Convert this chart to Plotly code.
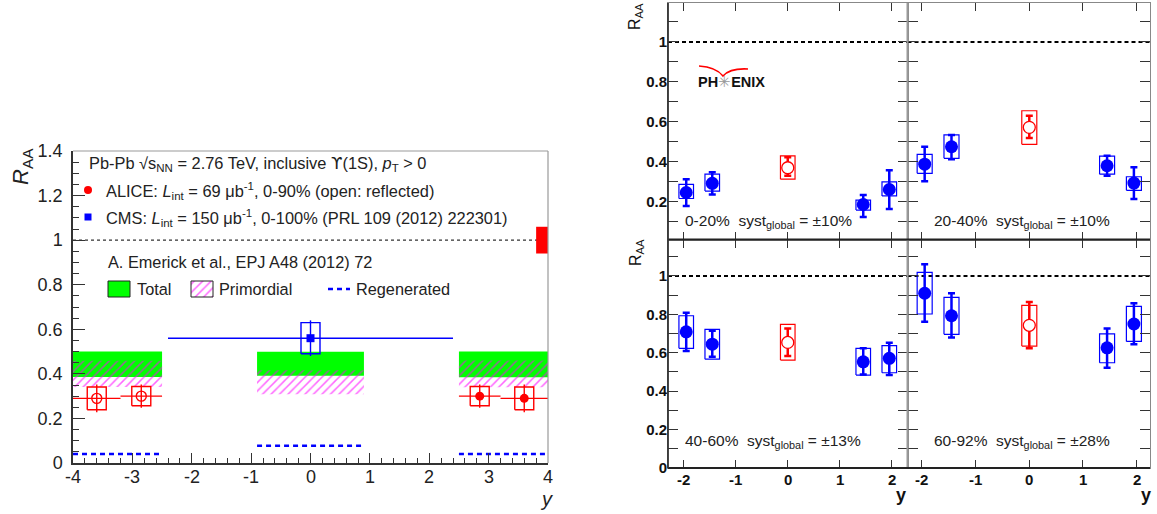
import plotly.graph_objects as go

# ---------------- DATA ----------------
# Left panel: Upsilon(1S) R_AA vs y at the LHC
alice_y = [2.85, 3.6]
alice_ylo = [2.5, 3.2]
alice_yhi = [3.2, 4.0]
alice_raa = [0.30, 0.29]
alice_stat = [0.052, 0.062]
alice_syst = [0.043, 0.051]
alice_global = 0.06

cms_y = [0.0]
cms_ylo = [-2.4]
cms_yhi = [2.4]
cms_raa = [0.56]
cms_stat = [0.08]
cms_syst = [0.07]

model_ylo = [-4.0, -0.9, 2.5]
model_yhi = [-2.5, 0.9, 4.0]
total_lo = [0.386, 0.392, 0.385]
total_hi = [0.500, 0.499, 0.500]
prim_lo = [0.341, 0.309, 0.340]
prim_hi = [0.459, 0.416, 0.460]
regen = [0.040, 0.077, 0.040]

left_xticks = [-4, -3, -2, -1, 0, 1, 2, 3, 4]
left_xticktext = ["-4", "-3", "-2", "-1", "0", "1", "2", "3", "4"]

# Right panels: PHENIX R_AA vs y in 4 centrality classes
fwd_y = [-1.95, -1.45, 1.45, 1.95]
mid_y = [0.0]
centralities = ["0-20%", "20-40%", "40-60%", "60-92%"]
syst_global = ["±10%", "±10%", "±13%", "±28%"]

fwd_raa = [
    [0.247, 0.293, 0.187, 0.262],
    [0.389, 0.476, 0.381, 0.294],
    [0.709, 0.645, 0.553, 0.571],
    [0.910, 0.793, 0.626, 0.750],
]
fwd_stat_hi = [
    [0.314, 0.348, 0.234, 0.359],
    [0.476, 0.535, 0.431, 0.373],
    [0.809, 0.715, 0.623, 0.652],
    [1.061, 0.910, 0.727, 0.858],
]
fwd_stat_lo = [
    [0.180, 0.237, 0.125, 0.164],
    [0.303, 0.413, 0.331, 0.214],
    [0.609, 0.579, 0.487, 0.484],
    [0.762, 0.680, 0.522, 0.645],
]
fwd_syst_hi = [
    [0.288, 0.339, 0.209, 0.300],
    [0.438, 0.535, 0.429, 0.326],
    [0.793, 0.722, 0.623, 0.637],
    [1.019, 0.889, 0.699, 0.842],
]
fwd_syst_lo = [
    [0.217, 0.254, 0.159, 0.230],
    [0.343, 0.418, 0.339, 0.258],
    [0.623, 0.567, 0.484, 0.496],
    [0.802, 0.696, 0.548, 0.659],
]
mid_raa = [[0.371], [0.573], [0.654], [0.743]]
mid_stat_hi = [[0.423], [0.631], [0.727], [0.864]]
mid_stat_lo = [[0.331], [0.520], [0.583], [0.623]]
mid_syst_hi = [[0.430], [0.656], [0.748], [0.847]]
mid_syst_lo = [[0.314], [0.488], [0.562], [0.635]]

right_xticks = [-2, -1, 0, 1, 2]
right_xticktext = ["-2", "-1", "0", "1", "2"]

# ---------------- STYLE / LAYOUT ----------------
W, H = 1157, 514
FONT = "Liberation Sans, Arial, Helvetica, sans-serif"
BLUE = "#0000ff"
RED = "#ff0000"


def fx(p):
    return p / W


def fy(p):
    return 1 - p / H


def rect_path(xc, lo, hi, dx):
    xs, ys = [], []
    for x, l, h in zip(xc, lo, hi):
        xs += [x - dx, x + dx, x + dx, x - dx, x - dx, None]
        ys += [l, l, h, h, l, None]
    return xs, ys


fig = go.Figure()

# ---------- Left panel ----------
L = dict(xaxis="x", yaxis="y")
for i in range(len(model_ylo)):
    a, b = model_ylo[i], model_yhi[i]
    fig.add_trace(go.Scatter(x=[a, b, b, a, a], y=[total_lo[i], total_lo[i], total_hi[i], total_hi[i], total_lo[i]],
                             fill="toself", fillcolor="#00ff00", mode="lines", line=dict(width=0),
                             showlegend=False, hoverinfo="skip", **L))
for i in range(len(model_ylo)):
    a, b = model_ylo[i], model_yhi[i]
    fig.add_trace(go.Scatter(x=[a, b, b, a, a], y=[prim_lo[i], prim_lo[i], prim_hi[i], prim_hi[i], prim_lo[i]],
                             fill="toself", fillcolor="rgba(0,0,0,0)", mode="lines", line=dict(width=0),
                             fillpattern=dict(shape="/", fgcolor="#ff00ff", fgopacity=0.6,
                                              bgcolor="rgba(0,0,0,0)", size=6, solidity=0.25),
                             showlegend=False, hoverinfo="skip", **L))
for i in range(len(model_ylo)):
    fig.add_trace(go.Scatter(x=[model_ylo[i], model_yhi[i]], y=[regen[i], regen[i]], mode="lines",
                             line=dict(color=BLUE, width=2.5, dash="5px,4px"),
                             showlegend=False, hoverinfo="skip", **L))

# unity line
fig.add_trace(go.Scatter(x=[left_xticks[0], left_xticks[-1]], y=[1, 1], mode="lines",
                         line=dict(color="#333", width=1.2, dash="dot"), showlegend=False, **L))
# ALICE global uncertainty box
fig.add_trace(go.Scatter(x=[3.8, 4.0, 4.0, 3.8, 3.8],
                         y=[1 - alice_global, 1 - alice_global, 1 + alice_global, 1 + alice_global, 1 - alice_global],
                         fill="toself", fillcolor=RED, mode="lines", line=dict(width=0, color=RED),
                         showlegend=False, **L))

# ALICE syst boxes (measured + reflected)
refl_y = [-v for v in alice_y]
bx, by = rect_path(alice_y + refl_y,
                   [r - s for r, s in zip(alice_raa, alice_syst)] * 2,
                   [r + s for r, s in zip(alice_raa, alice_syst)] * 2, 0.16)
fig.add_trace(go.Scatter(x=bx, y=by, mode="lines", line=dict(color=RED, width=1.4), showlegend=False, **L))
# CMS syst box
bx, by = rect_path(cms_y, [r - s for r, s in zip(cms_raa, cms_syst)],
                   [r + s for r, s in zip(cms_raa, cms_syst)], 0.16)
fig.add_trace(go.Scatter(x=bx, y=by, mode="lines", line=dict(color=BLUE, width=1.4), showlegend=False, **L))

# ALICE points
fig.add_trace(go.Scatter(
    x=alice_y, y=alice_raa, mode="markers",
    marker=dict(symbol="circle", size=9, color=RED),
    error_x=dict(type="data", array=[h - y for h, y in zip(alice_yhi, alice_y)],
                 arrayminus=[y - l for l, y in zip(alice_ylo, alice_y)], color=RED, thickness=1.4, width=0),
    error_y=dict(type="data", array=alice_stat, color=RED, thickness=1.4, width=0),
    showlegend=False, **L))
fig.add_trace(go.Scatter(
    x=refl_y, y=alice_raa, mode="markers",
    marker=dict(symbol="circle-open", size=10, color=RED, line=dict(width=1.4)),
    error_x=dict(type="data", array=[y - l for l, y in zip(alice_ylo, alice_y)],
                 arrayminus=[h - y for h, y in zip(alice_yhi, alice_y)], color=RED, thickness=1.4, width=0),
    error_y=dict(type="data", array=alice_stat, color=RED, thickness=1.4, width=0),
    showlegend=False, **L))
# CMS point
fig.add_trace(go.Scatter(
    x=cms_y, y=cms_raa, mode="markers",
    marker=dict(symbol="square", size=8, color=BLUE),
    error_x=dict(type="data", array=[h - y for h, y in zip(cms_yhi, cms_y)],
                 arrayminus=[y - l for l, y in zip(cms_ylo, cms_y)], color=BLUE, thickness=1.4, width=0),
    error_y=dict(type="data", array=cms_stat, color=BLUE, thickness=1.4, width=0),
    showlegend=False, **L))

# ---------- Right panels ----------
panels = [("x2", "y2"), ("x3", "y3"), ("x4", "y4"), ("x5", "y5")]
xranges = [[-2.3, 2.3], [-2.27, 2.25], [-2.3, 2.3], [-2.27, 2.25]]
for k, (xa, ya) in enumerate(panels):
    P = dict(xaxis=xa, yaxis=ya)
    fig.add_trace(go.Scatter(x=xranges[k], y=[1, 1], mode="lines",
                             line=dict(color="black", width=2, dash="4px,3px"), showlegend=False, **P))
    bx, by = rect_path(fwd_y, fwd_syst_lo[k], fwd_syst_hi[k], 0.14)
    fig.add_trace(go.Scatter(x=bx, y=by, mode="lines", line=dict(color=BLUE, width=1.2), showlegend=False, **P))
    bx, by = rect_path(mid_y, mid_syst_lo[k], mid_syst_hi[k], 0.14)
    fig.add_trace(go.Scatter(x=bx, y=by, mode="lines", line=dict(color=RED, width=1.2), showlegend=False, **P))
    fig.add_trace(go.Scatter(
        x=fwd_y, y=fwd_raa[k], mode="markers",
        marker=dict(symbol="circle", size=13, color=BLUE),
        error_y=dict(type="data", array=[h - r for h, r in zip(fwd_stat_hi[k], fwd_raa[k])],
                     arrayminus=[r - l for l, r in zip(fwd_stat_lo[k], fwd_raa[k])],
                     color=BLUE, thickness=2.5, width=3.5),
        showlegend=False, **P))
    fig.add_trace(go.Scatter(
        x=mid_y, y=mid_raa[k], mode="markers",
        marker=dict(symbol="circle", size=12, color="white", line=dict(color=RED, width=1.3)),
        error_y=dict(type="data", array=[h - r for h, r in zip(mid_stat_hi[k], mid_raa[k])],
                     arrayminus=[r - l for l, r in zip(mid_stat_lo[k], mid_raa[k])],
                     color=RED, thickness=2.5, width=3.5),
        showlegend=False, **P))

# ---------- Overlay (pixel) axis for legend swatches ----------
O = dict(xaxis="x6", yaxis="y6")
fig.add_trace(go.Scatter(x=[88], y=[190], mode="markers", marker=dict(symbol="circle", size=8, color=RED),
                         showlegend=False, **O))
fig.add_trace(go.Scatter(x=[88], y=[217], mode="markers", marker=dict(symbol="square", size=7, color=BLUE),
                         showlegend=False, **O))
fig.add_trace(go.Scatter(x=[108, 130, 130, 108, 108], y=[281, 281, 297, 297, 281], fill="toself",
                         fillcolor="#00ff00", mode="lines", line=dict(color="#222", width=1),
                         showlegend=False, **O))
fig.add_trace(go.Scatter(x=[191, 213, 213, 191, 191], y=[281, 281, 297, 297, 281], fill="toself",
                         fillcolor="rgba(0,0,0,0)", mode="lines", line=dict(color="#222", width=1),
                         fillpattern=dict(shape="/", fgcolor="#ff00ff", fgopacity=0.6,
                                          bgcolor="rgba(0,0,0,0)", size=6, solidity=0.25),
                         showlegend=False, **O))
fig.add_trace(go.Scatter(x=[328, 350], y=[289, 289], mode="lines",
                         line=dict(color=BLUE, width=2.5, dash="5px,4px"), showlegend=False, **O))

# ---------- Axes ----------
tick_common = dict(ticks="inside", tickcolor="#333", showgrid=False, zeroline=False, automargin=False)
layout = dict(
    width=W, height=H, margin=dict(l=0, r=0, t=0, b=0, pad=0, autoexpand=False),
    paper_bgcolor="white", plot_bgcolor="rgba(0,0,0,0)",
    font=dict(family=FONT, color="#222"),
    xaxis=dict(domain=[fx(73), fx(548)], range=[-4, 4], anchor="y",
               tickvals=left_xticks, showticklabels=False, ticklen=10,
               minor=dict(dtick=0.2, ticklen=5, ticks="inside", tickcolor="#333"),
               showline=True, linecolor="#333", linewidth=1.5, **tick_common),
    yaxis=dict(domain=[fy(463), fy(151)], range=[0, 1.4], anchor="x", dtick=0.2, ticklen=12,
               minor=dict(dtick=0.05, ticklen=6, ticks="inside", tickcolor="#333"),
               showline=True, linecolor="#333", linewidth=1.5,
               tickfont=dict(size=18, family=FONT, color="#222"), ticklabelstandoff=5, **tick_common),
    xaxis6=dict(domain=[0, 1], range=[0, W], anchor="y6", visible=False, fixedrange=True, automargin=False),
    yaxis6=dict(domain=[0, 1], range=[H, 0], anchor="x6", visible=False, fixedrange=True, automargin=False),
)

xdoms = [[fx(668), fx(907.5)], [fx(907.5), fx(1150)], [fx(668), fx(907.5)], [fx(907.5), fx(1150)]]
ydoms = [[fy(239.5), fy(3)], [fy(239.5), fy(3)], [fy(468), fy(239.5)], [fy(468), fy(239.5)]]
yranges = [[0.012, 1.195], [0.012, 1.195], [0.0, 1.19], [0.0, 1.19]]
for k, (xa, ya) in enumerate(panels):
    xn = "xaxis" + xa[1:]
    yn = "yaxis" + ya[1:]
    lo_tick = 0.2 if k < 2 else 0.0
    yt = [round(0.1 * i, 1) for i in range(0, 12)]
    ytxt = []
    for v in yt:
        if abs(v * 10 % 2) < 1e-6 and v >= lo_tick - 1e-9:
            ytxt.append("<b>%s</b>" % ("1" if v == 1 else ("0" if v == 0 else "%.1f" % v)))
        else:
            ytxt.append("")
    layout[xn] = dict(domain=xdoms[k], range=xranges[k], anchor=ya, tickvals=right_xticks,
                      showticklabels=False, ticklen=8,
                      showline=True, mirror="ticks", linecolor="#888", linewidth=1, **tick_common)
    layout[yn] = dict(domain=ydoms[k], range=yranges[k], anchor=xa, tickvals=yt, ticktext=ytxt,
                      showticklabels=(k % 2 == 0), ticklen=10,
                      showline=True, mirror="ticks", linecolor="#888", linewidth=1,
                      tickfont=dict(size=15, family=FONT, color="#111"), ticklabelstandoff=-3, **tick_common)
fig.update_layout(**layout)

# ---------- Shapes ----------
shapes = [
    # left frame (top/right light gray)
    dict(type="line", xref="paper", yref="paper", x0=fx(73), x1=fx(548), y0=fy(151), y1=fy(151),
         line=dict(color="#999", width=1.2)),
    dict(type="line", xref="paper", yref="paper", x0=fx(548), x1=fx(548), y0=fy(151), y1=fy(463),
         line=dict(color="#999", width=1.2)),
    # PHENIX panel edges
    dict(type="line", xref="paper", yref="paper", x0=fx(907.5), x1=fx(907.5), y0=fy(3), y1=fy(468),
         line=dict(color="#999", width=2)),
    dict(type="line", xref="paper", yref="paper", x0=fx(668), x1=fx(1150), y0=fy(239.5), y1=fy(239.5),
         line=dict(color="#222", width=2)),
    dict(type="line", xref="paper", yref="paper", x0=fx(668), x1=fx(1150), y0=fy(468), y1=fy(468),
         line=dict(color="#222", width=2)),
    dict(type="line", xref="paper", yref="paper", x0=fx(668), x1=fx(668), y0=fy(3), y1=fy(468),
         line=dict(color="#333", width=1.8)),
    # PHENIX logo arc
    dict(type="path", xref="paper", yref="paper",
         path="M %f,%f Q %f,%f %f,%f Q %f,%f %f,%f" % (fx(699), fy(66), fx(716), fy(67), fx(723), fy(76),
                                                      fx(730), fy(68), fx(748), fy(69)),
         line=dict(color=RED, width=1.6)),
]
fig.update_layout(shapes=shapes)

# ---------- Annotations ----------
ann = []


def txt(x, y, s, size=15, xanchor="left", yanchor="middle", color="#222", angle=0, family=FONT):
    ann.append(dict(x=fx(x), y=fy(y), xref="paper", yref="paper", text=s, showarrow=False,
                    xanchor=xanchor, yanchor=yanchor, textangle=angle,
                    font=dict(size=size, color=color, family=family)))


UPS = "<span style='font-family:DejaVu Sans'>ϒ</span>"
txt(87, 164, "Pb-Pb √s<sub>NN</sub> = 2.76 TeV, inclusive " + UPS + "(1S), <i>p</i><sub>T</sub> > 0", size=16.4)
txt(104, 191, "ALICE: <i>L</i><sub>int</sub> = 69 μb<sup>-1</sup>, 0-90% (open: reflected)", size=16.4)
txt(104, 218, "CMS: <i>L</i><sub>int</sub> = 150 μb<sup>-1</sup>, 0-100% (PRL 109 (2012) 222301)", size=16.4)
txt(106, 262, "A. Emerick et al., EPJ A48 (2012) 72", size=16.3)
txt(135, 289, "Total", size=16.3)
txt(217, 289, "Primordial", size=16.3)
txt(354, 289, "Regenerated", size=16.3)
txt(22, 166, "<i>R</i><sub>AA</sub>", size=22, xanchor="center", angle=-90)
txt(546, 499, "<i>y</i>", size=20, xanchor="center")

# x tick labels (placed at the axis values)
for v, t in zip(left_xticks, left_xticktext):
    ann.append(dict(x=v, xref="x", y=fy(477), yref="paper", text=t, showarrow=False,
                    xanchor="center", yanchor="middle", font=dict(size=18, family=FONT, color="#222")))
for xa in ("x4", "x5"):
    for v, t in zip(right_xticks, right_xticktext):
        ann.append(dict(x=v, xref=xa, y=fy(479), yref="paper", text="<b>%s</b>" % t, showarrow=False,
                        xanchor="center", yanchor="middle", font=dict(size=15, family=FONT, color="#111")))

# PHENIX panels
txt(636, 17, "R<sub>AA</sub>", size=16, xanchor="center", angle=-90, color="#111")
txt(636, 253, "R<sub>AA</sub>", size=16, xanchor="center", angle=-90, color="#111")
txt(901, 495, "<b>y</b>", size=18, xanchor="center", color="#111")
txt(1146, 495, "<b>y</b>", size=18, xanchor="center", color="#111")
txt(696, 82, "<b>PH</b><span style='color:#999'>✳</span><b>ENIX</b>", size=14.5, color="#111")

lab_pos = [(683, 221), (932, 221), (683, 441), (932, 441)]
for k in range(4):
    txt(lab_pos[k][0], lab_pos[k][1],
        "%s  syst<sub>global</sub> = %s" % (centralities[k], syst_global[k]), size=15.5, color="#222")

fig.update_layout(annotations=ann)

fig.write_html("out.html", config={"displayModeBar": False},
               post_script="document.body.style.margin='0px';document.body.style.padding='0px';"
                           "document.body.style.overflow='hidden';")
